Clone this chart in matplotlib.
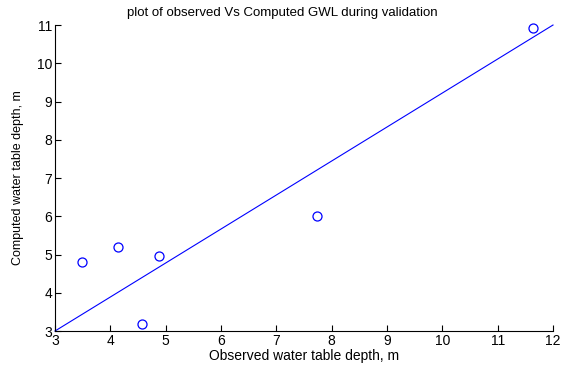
import matplotlib
matplotlib.use("Agg")
import matplotlib.pyplot as plt

# Observed vs computed groundwater levels (validation period)
observed = [3.49, 4.14, 4.88, 4.57, 7.74, 11.64]
computed = [4.80, 5.20, 4.96, 3.18, 6.00, 10.92]

# Reference line endpoints
line_x = [3, 12]
line_y = [3, 11]

x_ticks = list(range(3, 13))
y_ticks = list(range(3, 12))

plt.rcParams['font.family'] = ['Liberation Sans', 'DejaVu Sans']

fig = plt.figure(figsize=(5.64, 3.68), dpi=100)
ax = fig.add_axes([0.0975, 0.1005, 0.883, 0.8315])

ax.plot(line_x, line_y, color='#0000ff', linewidth=0.8, clip_on=False)
ax.plot(observed, computed, linestyle='none', marker='o', markersize=6.5,
        markerfacecolor='none', markeredgecolor='#0000ff', markeredgewidth=0.9,
        clip_on=False)

ax.set_xlim(3, 12)
ax.set_ylim(3, 11)
ax.set_xticks(x_ticks)
ax.set_yticks(y_ticks)
ax.tick_params(direction='in', length=4, width=0.8, labelsize=10, pad=2)

for side in ('top', 'right'):
    ax.spines[side].set_visible(False)
for side in ('left', 'bottom'):
    ax.spines[side].set_linewidth(0.8)

fig.text(0.5, 0.966, 'plot of observed Vs Computed GWL during validation',
         fontsize=9.5, ha='center', va='center')
ax.set_xlabel('Observed water table depth, m', fontsize=10, labelpad=1)
ax.set_ylabel('Computed water table depth, m', fontsize=9, labelpad=9)

fig.savefig('out.png', dpi=100)
